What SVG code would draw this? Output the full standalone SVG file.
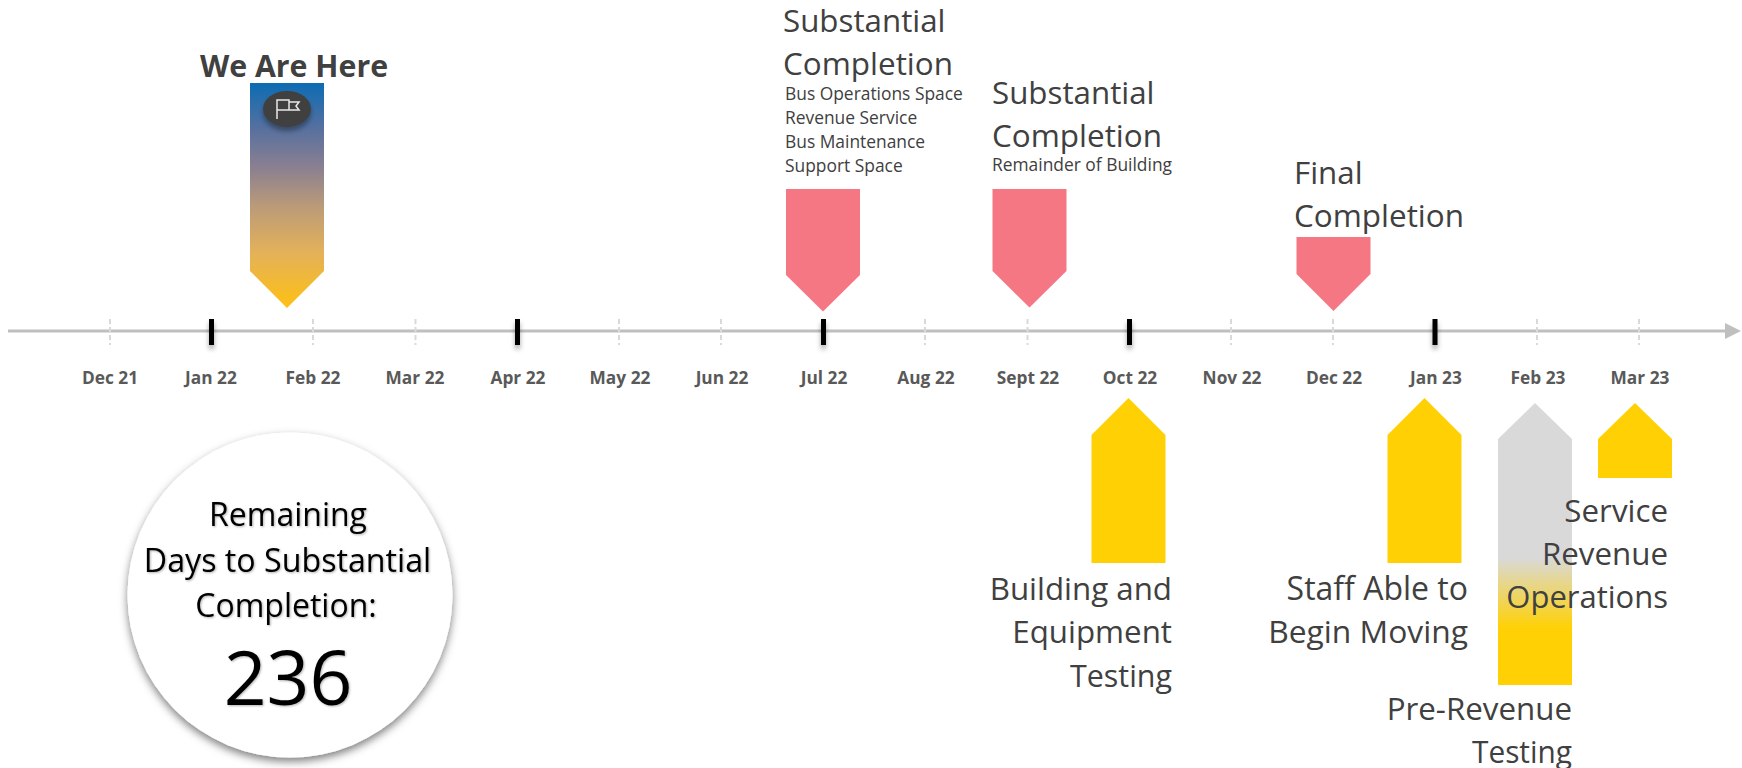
<svg xmlns="http://www.w3.org/2000/svg" width="1742" height="768" viewBox="0 0 1742 768">
<style>
text{font-family:"Open Sans","Liberation Sans",sans-serif;fill:#404040}
.big{font-size:31.300px}
.small{font-size:17.400px}
.date{font-size:17.300px;font-weight:700;fill:#595959;text-anchor:middle}
.end{text-anchor:end}
.mid{text-anchor:middle}
.c{fill:#000;text-anchor:middle;font-size:32px;filter:url(#ts)}
.minor{stroke:#d9d9d9;stroke-width:2;stroke-dasharray:5 3}
.major{stroke:#000;stroke-width:5;filter:url(#sh)}
.red{fill:#f67784}
.yel{fill:#ffd105}
</style>
<defs>
<linearGradient id="g1" x1="0" y1="0" x2="0" y2="1"><stop offset="0" stop-color="#0b6cb4"/><stop offset=".2" stop-color="#56709f"/><stop offset=".38" stop-color="#8c8090"/><stop offset=".55" stop-color="#bb9b78"/><stop offset=".75" stop-color="#e3b15a"/><stop offset="1" stop-color="#ffc014"/></linearGradient>
<linearGradient id="g2" gradientUnits="userSpaceOnUse" x1="0" y1="558" x2="0" y2="628"><stop offset="0" stop-color="#d9d9d9"/><stop offset="1" stop-color="#ffd105"/></linearGradient>
<filter id="sh" x="-300%" y="-30%" width="700%" height="180%"><feDropShadow dx="0" dy="4" stdDeviation="2.500" flood-color="#000" flood-opacity=".35"/></filter>
<filter id="ts" x="-10%" y="-10%" width="120%" height="130%"><feDropShadow dx="1" dy="1" stdDeviation="1" flood-color="#000" flood-opacity=".3"/></filter>
<filter id="cs" x="-10%" y="-10%" width="120%" height="120%"><feDropShadow dx="0" dy="4" stdDeviation="4" flood-color="#000" flood-opacity=".5"/></filter>
</defs>
<g id="connectors">
<path d="M8 331H1726" stroke="#bfbfbf" stroke-width="3" fill="none"/>
<path d="M1725 323L1741 331L1725 339Z" fill="#bfbfbf"/>
<g id="ticks">
<path class="minor" d="M110 319V345M313 319V345M415.500 319V345M619 319V345M721 319V345M925 319V345M1027.500 319V345M1231 319V345M1333 319V345M1537 319V345M1639 319V345"/>
<path class="major" d="M211.500 319V345M517.500 319V345M823.500 319V345M1129.500 319V345M1435 319V345"/>
</g>
</g>
<g id="dates">
<text class="date" x="110" y="384">Dec 21</text>
<text class="date" x="211" y="384">Jan 22</text>
<text class="date" x="313" y="384">Feb 22</text>
<text class="date" x="415" y="384">Mar 22</text>
<text class="date" x="518" y="384">Apr 22</text>
<text class="date" x="620" y="384">May 22</text>
<text class="date" x="722" y="384">Jun 22</text>
<text class="date" x="824" y="384">Jul 22</text>
<text class="date" x="926" y="384">Aug 22</text>
<text class="date" x="1028" y="384">Sept 22</text>
<text class="date" x="1130" y="384">Oct 22</text>
<text class="date" x="1232" y="384">Nov 22</text>
<text class="date" x="1334" y="384">Dec 22</text>
<text class="date" x="1436" y="384">Jan 23</text>
<text class="date" x="1538" y="384">Feb 23</text>
<text class="date" x="1640" y="384">Mar 23</text>
</g>
<g id="we-are-here">
<text x="294" y="77" class="mid" style="font-size:30.300px;font-weight:700">We Are Here</text>
<path d="M250 83H324V271L287 308L250 271Z" fill="url(#g1)"/>
<ellipse cx="287" cy="109" rx="24" ry="18" fill="#404040" filter="url(#sh)"/>
<path d="M277 119V100H289V110H277M289 102H299L296 106L299 110H289" fill="none" stroke="#e8e8e8" stroke-width="1.500"/>
</g>
<g id="substantial-1">
<text class="big" x="783" y="32">Substantial</text>
<text class="big" x="783" y="75" textLength="170" lengthAdjust="spacingAndGlyphs">Completion</text>
<text class="small" x="785" y="100">Bus Operations Space</text>
<text class="small" x="785" y="124">Revenue Service</text>
<text class="small" x="785" y="148">Bus Maintenance</text>
<text class="small" x="785" y="172">Support Space</text>
<path class="red" d="M786 189H860V275L823 311.500L786 275Z"/>
</g>
<g id="substantial-2">
<text class="big" x="992" y="104">Substantial</text>
<text class="big" x="992" y="147" textLength="170" lengthAdjust="spacingAndGlyphs">Completion</text>
<text class="small" x="992" y="171">Remainder of Building</text>
<path class="red" d="M992.500 189H1066.500V271L1029.500 307.500L992.500 271Z"/>
</g>
<g id="final-completion">
<text class="big" x="1294" y="184">Final</text>
<text class="big" x="1294" y="227" textLength="170" lengthAdjust="spacingAndGlyphs">Completion</text>
<path class="red" d="M1296.500 237H1370.500V274L1333.500 311L1296.500 274Z"/>
</g>
<g id="building-testing">
<path class="yel" d="M1128.500 398L1165.500 435V563H1091.500V435Z"/>
<text class="big end" x="1172" y="600">Building and</text>
<text class="big end" x="1172" y="643">Equipment</text>
<text class="big end" x="1172" y="687" textLength="102" lengthAdjust="spacingAndGlyphs">Testing</text>
</g>
<g id="staff-moving">
<path class="yel" d="M1424.500 398L1461.500 435V563H1387.500V435Z"/>
<text class="big end" x="1468" y="600" style="font-size:32px">Staff Able to</text>
<text class="big end" x="1468" y="643" style="font-size:31.800px">Begin Moving</text>
</g>
<g id="pre-revenue">
<path d="M1535 403L1572 439V685H1498V439Z" fill="url(#g2)"/>
<text class="big end" x="1572" y="720">Pre-Revenue</text>
<text class="big end" x="1572" y="763" textLength="100" lengthAdjust="spacingAndGlyphs">Testing</text>
</g>
<g id="service-revenue">
<path class="yel" d="M1635 403L1672 439V478H1598V439Z"/>
<text class="big end" x="1668" y="522">Service</text>
<text class="big end" x="1668" y="565">Revenue</text>
<text class="big end" x="1668" y="608" style="font-size:31px">Operations</text>
</g>
<g id="remaining-days">
<circle cx="290" cy="595" r="162.500" fill="#fff" filter="url(#cs)"/>
<text class="c" x="288" y="526">Remaining</text>
<text class="c" x="287.500" y="572" style="font-size:32.200px">Days to Substantial</text>
<text class="c" x="286" y="617">Completion:</text>
<text class="c" x="288" y="705" style="font-size:75px">236</text>
</g>
</svg>
